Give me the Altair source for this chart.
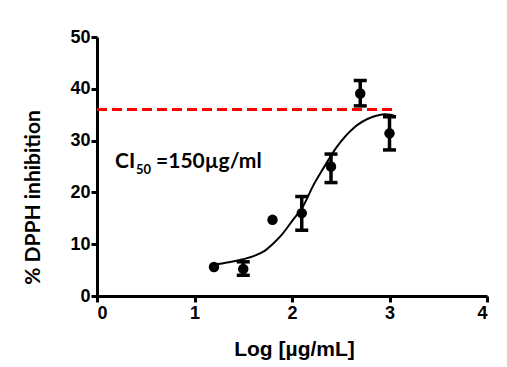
import altair as alt
import pandas as pd

# measured points
log_conc = [1.2, 1.5, 1.8, 2.1, 2.4, 2.7, 3.0]
inhib = [5.6, 5.2, 14.7, 16.0, 25.0, 39.1, 31.4]
err_lo = [5.6, 4.0, 14.7, 12.7, 21.9, 36.7, 28.2]
err_hi = [5.6, 6.6, 14.7, 19.2, 27.4, 41.6, 34.6]

# fitted curve
curve_x = [1.19, 1.35, 1.50, 1.62, 1.71, 1.80, 1.88, 2.01, 2.11, 2.22, 2.32, 2.46, 2.63, 2.83, 2.95, 3.01, 3.06]
curve_y = [6.0, 6.5, 7.1, 7.8, 8.6, 10.0, 11.5, 14.7, 17.2, 21.4, 24.6, 28.8, 32.4, 34.6, 35.1, 35.0, 34.7]

# reference line
ic_x = [0.0, 3.06]
ic_y = [36.0, 36.0]

pts = pd.DataFrame({"x": log_conc, "y": inhib, "lo": err_lo, "hi": err_hi})
cur = pd.DataFrame({"x": curve_x, "y": curve_y})
ref = pd.DataFrame({"x": ic_x, "y": ic_y})

xs = alt.Scale(domain=[0, 4], nice=False, zero=False)
ys = alt.Scale(domain=[0, 50], nice=False)

FS = 18
X = alt.X("x:Q", scale=xs, axis=alt.Axis(
    title="Log [µg/mL]", values=[0, 1, 2, 3, 4], format="d",
    domainWidth=3, domainColor="black", tickWidth=3, tickColor="black", tickSize=6,
    labelFont="Liberation Sans", labelFontWeight="bold", labelFontSize=FS, labelColor="black", labelPadding=2,
    titleFont="Liberation Sans", titleFontWeight="bold", titleFontSize=21, titleColor="black",
    titleX=197, titleY=59, titleBaseline="alphabetic", titleAlign="center",
    grid=False))
Y = alt.Y("y:Q", scale=ys, axis=alt.Axis(
    title="% DPPH inhibition", values=[0, 10, 20, 30, 40, 50],
    domainWidth=3, domainColor="black", tickWidth=3, tickColor="black", tickSize=6,
    labelFont="Liberation Sans", labelFontWeight="bold", labelFontSize=FS, labelColor="black", labelPadding=1,
    titleFont="Lato", titleFontWeight="bold", titleFontSize=21, titleColor="black",
    titleX=-58, titleY=160, titleBaseline="alphabetic", titleAlign="center", titleAngle=270,
    grid=False))

refline = alt.Chart(ref).mark_line(color="#ff0000", strokeWidth=3, strokeDash=[10, 5]).encode(x=X, y=Y)
curve = alt.Chart(cur).mark_line(color="black", strokeWidth=2, interpolate="monotone").encode(x="x:Q", y="y:Q")
eb = alt.Chart(pts).transform_filter("datum.hi > datum.lo")
bars = eb.mark_rule(color="black", strokeWidth=3.5, opacity=1).encode(x="x:Q", y="lo:Q", y2="hi:Q")
caps_hi = eb.mark_tick(color="black", thickness=3.5, size=13, orient="horizontal", opacity=1).encode(x="x:Q", y="hi:Q")
caps_lo = eb.mark_tick(color="black", thickness=3.5, size=13, orient="horizontal", opacity=1).encode(x="x:Q", y="lo:Q")
dots = alt.Chart(pts).mark_circle(color="black", size=110, opacity=1).encode(x="x:Q", y="y:Q")

lab = pd.DataFrame({"x": [0.185], "y": [24.8]})
t1 = alt.Chart(lab).mark_text(text="CI", font="Lato", fontWeight="bold", fontSize=21, align="left", baseline="alphabetic", color="black").encode(x="x:Q", y="y:Q")
t2 = alt.Chart(lab).mark_text(text="50", font="Lato", fontWeight="bold", fontSize=13, align="left", baseline="alphabetic", color="black", dx=21, dy=6).encode(x="x:Q", y="y:Q")
t3 = alt.Chart(lab).mark_text(text="=150µg/ml", font="Lato", fontWeight="bold", fontSize=21, align="left", baseline="alphabetic", color="black", dx=41).encode(x="x:Q", y="y:Q")

chart = alt.layer(refline, curve, bars, caps_hi, caps_lo, dots, t1, t2, t3).properties(
    width=390, height=259,
    autosize=alt.AutoSizeParams(type="none"),
    padding={"left": 89, "top": 29, "right": 10, "bottom": 70},
    background="white",
).configure_view(stroke=None)

chart.save("out.html", embed_options={"renderer": "svg", "actions": False})
